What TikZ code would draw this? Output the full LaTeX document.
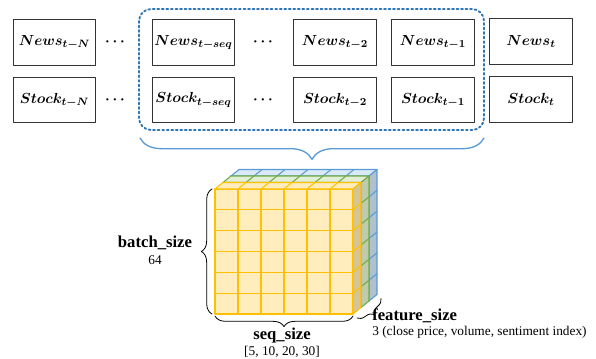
\documentclass[tikz,border=0pt]{standalone}
\usepackage{fontspec}
\setmainfont{Liberation Serif}
\usetikzlibrary{decorations.pathreplacing}
\definecolor{seqblue}{RGB}{46,117,182}
\definecolor{braceblue}{RGB}{91,155,213}
\definecolor{yelLine}{RGB}{255,192,0}
\definecolor{yelFace}{RGB}{255,237,190}
\definecolor{yelSide}{RGB}{214,196,150}
\definecolor{greenLine}{RGB}{112,173,71}
\definecolor{greenTop}{RGB}{226,239,214}
\definecolor{greenSide}{RGB}{192,202,172}
\definecolor{blueLine}{RGB}{91,155,213}
\definecolor{blueTop}{RGB}{218,233,247}
\definecolor{blueSide}{RGB}{176,192,206}
\tikzset{
  cell/.style={draw=black!80, line width=0.8pt, minimum width=62pt, minimum height=34pt, inner sep=0pt, font=\fontsize{11}{13}\selectfont\boldmath},
  gap/.style={font=\fontsize{11}{13}\selectfont\boldmath},
  lab/.style={font=\fontsize{12.5}{14}\selectfont\bfseries, inner sep=0pt},
  sublab/.style={font=\fontsize{10}{12}\selectfont, inner sep=0pt},
  curly/.style={decorate, line width=0.6pt}
}
\begin{document}
\begin{tikzpicture}[x=0.75pt, y=-0.75pt, line join=round, line cap=round]
	\useasboundingbox (0,0) rectangle (596,358);
	\node[cell] (newsN) at (54.5,42.5) {$News_{t-N}$};
	\node[cell] (stockN) at (54.5,100) {$Stock_{t-N}$};
	\node[gap] (gapA) at (115,42.5) {$\cdots$};
	\node[gap] (gapB) at (115,100) {$\cdots$};
	\node[cell] (newsSeq) at (193.5,42.5) {$News_{t-seq}$};
	\node[cell] (stockSeq) at (193.5,100) {$Stock_{t-seq}$};
	\node[gap] (gapC) at (263,42.5) {$\cdots$};
	\node[gap] (gapD) at (263,100) {$\cdots$};
	\node[cell] (newsTwo) at (335,42.5) {$News_{t-2}$};
	\node[cell] (stockTwo) at (335,100) {$Stock_{t-2}$};
	\node[cell] (newsOne) at (433,42.5) {$News_{t-1}$};
	\node[cell] (stockOne) at (433,100) {$Stock_{t-1}$};
	\node[cell] (newsT) at (531,41.5) {$News_{t}$};
	\node[cell] (stockT) at (531,99.5) {$Stock_{t}$};
	\draw[seqblue, line width=1.4pt, dotted, rounded corners=9pt] (139,9) rectangle (484,130);
	\coordinate (windowR) at (484,138);
	\coordinate (windowL) at (140,138);
	\draw[curly, braceblue, line width=1pt, decoration={brace, amplitude=16pt}] (windowR) -- (windowL);
	\foreach \k/\lc/\fc/\tc/\sc in {2/blueLine/blueTop/blueTop/blueSide, 1/greenLine/greenTop/greenTop/greenSide, 0/yelLine/yelFace/yelFace/yelSide}{
		\begin{scope}[shift={(8*\k,-6.5*\k)}, color=\lc, line width=0.8pt]
			\filldraw[fill=\fc] (215,189) rectangle (353,314);
			\filldraw[fill=\tc] (215,189) -- (353,189) -- ++(8,-6.5) -- (223,182.5) -- cycle;
			\filldraw[fill=\sc] (353,189) -- ++(8,-6.5) -- (361,307.5) -- (353,314) -- cycle;
			\foreach \i in {1,...,5}{
				\draw (215+23*\i,189) -- ++(8,-6.5);
				\draw (215+23*\i,189) -- ++(0,125);
			}
			\foreach \j in {1,...,5}{
				\draw (353,189+125/6*\j) -- ++(8,-6.5);
				\draw (215,189+125/6*\j) -- ++(138,0);
			}
		\end{scope}
	}
	\coordinate (cubeTL) at (212,189);
	\coordinate (cubeBL) at (212,314);
	\coordinate (cubeLB) at (215,314);
	\coordinate (cubeRB) at (353,314);
	\coordinate (depthA) at (357,318);
	\coordinate (depthB) at (381,298.5);
	\draw[curly, decoration={brace, amplitude=8pt}] (cubeBL) -- (cubeTL);
	\draw[curly, decoration={brace, amplitude=8pt}] ([yshift=-1.5pt]cubeRB) -- ([yshift=-1.5pt]cubeLB);
	\draw[curly, decoration={brace, amplitude=6pt}] (depthB) -- (depthA);
	\node[lab] (batch) at (155,243) {batch\_size};
	\node[sublab] (batchN) at (155,260) {64};
	\node[lab] (seq) at (282,335) {seq\_size};
	\node[sublab] (seqN) at (282,352) {[5, 10, 20, 30]};
	\node[lab, anchor=west] (feature) at (372,316) {feature\_size};
	\node[sublab, anchor=west] (featureN) at (372,332) {3 (close price, volume, sentiment index)};
\end{tikzpicture}
\end{document}
